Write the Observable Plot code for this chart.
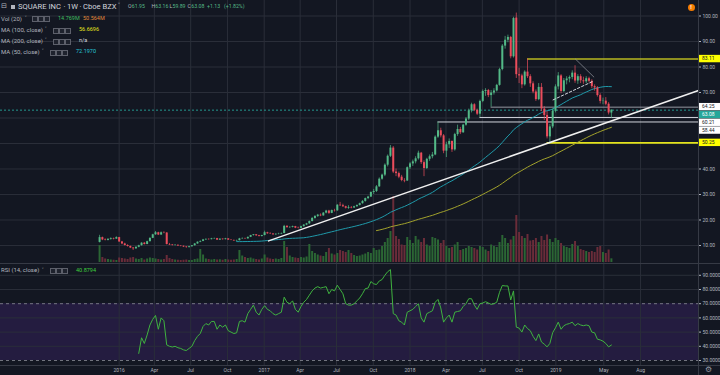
<!DOCTYPE html>
<html><head><meta charset="utf-8">
<script src="https://cdn.jsdelivr.net/npm/d3@7"></script>
<script src="https://cdn.jsdelivr.net/npm/@observablehq/plot@0.6"></script>
<style>
html,body{margin:0;padding:0;background:#131722;}
#chart{position:relative;width:720px;height:375px;background:#131722;overflow:hidden;font-family:Roboto,"Noto Sans",sans-serif;}
#chart svg{position:absolute;left:0;}
.t{position:absolute;white-space:pre;line-height:1;}
.ic{position:absolute;width:4px;height:4px;border:0.7px solid #5d606b;background:#1e222d;}
.sep{position:absolute;background:#363a45;}
</style></head><body><div id="chart"></div>
<script>
// ---------- data (weekly, starting week of 2015-11-16) ----------
const firstWeek = "2015-11-16";
const open = [11.2,13.1,12.2,12.0,12.4,12.7,12.5,13.1,11.4,10.6,
10.0,9.6,9.0,8.7,9.3,9.9,10.9,10.4,11.5,12.8,
14.2,15.0,14.1,15.0,14.9,10.4,10.2,10.0,10.1,9.8,
9.7,9.4,9.2,9.5,9.9,10.6,11.3,11.6,12.2,12.4,
12.3,12.6,12.7,12.1,12.5,12.3,12.6,12.1,12.0,11.8,
11.9,12.6,12.7,12.6,13.2,13.9,14.2,13.8,13.5,13.9,
15.0,14.6,14.5,14.2,14.4,14.5,14.7,17.5,17.0,17.1,
17.4,16.8,16.7,17.4,18.0,18.5,19.4,20.6,21.4,21.9,
21.6,22.7,23.5,22.6,23.7,23.6,25.8,25.6,25.2,24.6,
24.9,24.7,25.2,25.7,26.4,27.3,28.4,29.0,30.8,31.2,
33.0,36.0,37.6,41.5,45.0,48.2,38.8,38.2,36.8,35.5,
35.3,40.5,42.0,42.8,44.0,46.2,42.5,40.2,43.8,44.8,
45.5,52.5,55.0,53.0,47.0,49.5,50.8,47.5,53.5,55.5,
54.2,57.2,59.6,62.8,65.2,63.0,61.5,66.5,70.4,70.8,
68.8,69.8,70.6,72.8,79.0,88.2,90.5,91.6,84.0,99.2,
77.0,76.5,73.0,78.0,76.2,73.4,70.2,67.2,72.0,63.5,
61.0,52.6,56.5,62.6,72.2,76.5,70.4,74.6,75.3,75.9,
77.6,74.5,76.2,74.6,74.2,75.4,74.4,72.3,71.8,68.8,
66.5,66.6,65.4,61.95];
const high = [14.0,13.3,12.6,12.7,13.0,12.9,13.4,13.2,11.6,10.9,
10.3,9.8,9.2,9.5,10.1,11.1,11.2,11.7,13.0,14.4,
15.5,15.2,15.3,15.4,15.0,10.8,10.4,10.3,10.2,10.0,
9.8,9.6,9.7,10.0,10.8,11.4,11.8,12.4,12.6,12.6,
12.8,12.9,12.8,12.6,12.6,12.8,12.7,12.3,12.1,12.1,
12.8,13.0,12.9,13.3,14.0,14.3,14.3,14.0,14.0,15.6,
15.2,15.0,14.7,14.6,14.8,14.9,17.9,17.8,17.4,17.6,
17.5,17.2,17.6,18.2,18.7,19.6,21.0,21.7,22.2,22.4,
22.9,23.8,23.8,23.9,24.2,26.0,26.9,26.2,25.4,25.6,
25.3,25.4,25.9,26.6,27.6,28.6,29.3,31.0,32.0,33.5,
36.5,38.0,42.0,45.5,49.2,48.8,40.0,38.8,37.5,36.2,
40.8,42.5,43.5,44.8,47.0,46.5,43.2,44.2,45.5,46.5,
53.0,58.44,56.0,53.5,50.5,51.8,51.0,54.0,57.2,56.3,
57.5,60.2,63.5,65.8,65.6,63.5,67.0,71.0,71.5,71.2,
70.8,71.5,73.2,79.5,88.8,92.0,92.5,92.0,99.5,101.15,
79.5,77.2,78.5,83.11,77.0,74.2,71.0,73.5,73.5,64.5,
62.5,57.5,63.5,73.0,77.8,77.0,75.5,76.2,76.5,78.5,
80.5,77.0,77.0,76.0,76.2,76.0,75.0,73.0,72.3,69.5,
67.8,68.0,66.0,63.16];
const low = [11.0,11.9,11.8,11.8,12.1,12.2,12.4,11.2,10.3,9.8,
9.4,8.8,8.06,8.5,9.1,9.8,10.2,10.3,11.4,12.7,
14.0,13.9,14.0,14.6,10.2,10.0,9.8,9.8,9.6,9.5,
9.2,8.9,9.0,9.4,9.8,10.5,11.1,11.5,12.0,12.1,
12.2,12.4,12.0,12.0,12.1,12.2,12.0,11.9,11.6,11.6,
11.8,12.4,12.4,12.5,13.1,13.7,13.6,13.4,13.4,13.8,
14.4,14.3,14.0,14.0,14.2,14.3,14.6,16.8,16.7,16.9,
16.6,16.5,16.6,17.2,17.8,18.3,19.2,20.3,21.0,21.3,
21.5,22.4,22.2,22.5,23.1,23.4,25.3,24.9,24.3,24.2,
24.4,24.5,25.0,25.5,26.2,27.0,28.0,28.8,30.0,30.8,
32.8,35.6,37.0,40.8,44.5,38.2,37.0,36.2,35.0,34.6,
35.1,39.8,41.0,42.0,43.5,41.8,37.0,39.8,43.0,44.0,
45.2,52.0,52.2,46.0,44.5,48.0,46.5,47.0,52.8,53.5,
54.0,56.8,59.0,62.0,62.5,61.0,60.21,66.0,68.5,68.0,
64.25,69.0,70.2,72.5,78.5,87.0,89.5,83.2,83.5,75.5,
73.5,71.5,72.5,75.5,72.0,69.5,66.5,66.8,62.5,59.0,
51.8,49.82,55.8,62.0,71.0,69.5,70.0,73.0,73.8,75.0,
73.6,73.2,73.5,73.2,73.5,73.8,71.5,70.5,68.2,65.5,
65.2,64.8,61.2,59.89];
const close = [13.1,12.2,12.0,12.4,12.7,12.5,13.1,11.4,10.6,10.0,
9.6,9.0,8.7,9.3,9.9,10.9,10.4,11.5,12.8,14.2,
15.0,14.1,15.0,14.9,10.4,10.2,10.0,10.1,9.8,9.7,
9.4,9.2,9.5,9.9,10.6,11.3,11.6,12.2,12.4,12.3,
12.6,12.7,12.1,12.5,12.3,12.6,12.1,12.0,11.8,11.9,
12.6,12.7,12.6,13.2,13.9,14.2,13.8,13.5,13.9,15.0,
14.6,14.5,14.2,14.4,14.5,14.7,17.5,17.0,17.1,17.4,
16.8,16.7,17.4,18.0,18.5,19.4,20.6,21.4,21.9,21.6,
22.7,23.5,22.6,23.7,23.6,25.8,25.6,25.2,24.6,24.9,
24.7,25.2,25.7,26.4,27.3,28.4,29.0,30.8,31.2,33.0,
36.0,37.6,41.5,45.0,48.2,38.8,38.2,36.8,35.5,35.3,
40.5,42.0,42.8,44.0,46.2,42.5,40.2,43.8,44.8,45.5,
52.5,55.0,53.0,47.0,49.5,50.8,47.5,53.5,55.5,54.2,
57.2,59.6,62.8,65.2,63.0,61.5,66.5,70.4,70.8,68.8,
69.8,70.6,72.8,79.0,88.2,90.5,91.6,84.0,99.0,77.0,
76.5,73.0,78.0,76.2,73.4,70.2,67.2,72.0,63.5,61.0,
52.6,56.5,62.6,72.2,76.5,70.4,74.6,75.3,75.9,77.6,
74.5,76.2,74.6,74.2,75.4,74.4,72.3,71.8,68.8,66.5,
66.6,65.4,61.95,63.08];
const volume = [68,20,14,12,10,9,8,18,16,14,
12,18,20,14,12,16,10,14,18,16,
14,12,10,12,28,16,12,10,9,8,
9,10,8,8,12,14,52,30,14,12,
10,12,10,11,9,12,10,9,10,12,
48,26,20,16,18,14,12,10,14,30,
18,14,12,14,12,16,84,60,26,20,
18,16,20,18,22,72,44,36,30,26,
24,40,56,34,30,36,48,44,40,48,
36,28,24,26,30,34,40,36,56,48,
50,64,80,96,124,264,104,92,70,68,
100,88,76,104,90,80,96,70,64,100,
96,90,76,88,64,56,60,70,80,48,
52,56,64,60,56,50,64,60,50,44,
70,64,60,80,108,96,76,90,104,188,
120,104,96,112,86,88,96,80,104,88,
110,92,80,96,88,76,64,60,56,72,
84,64,52,48,44,40,44,40,60,64,
40,36,50,14.77];
const rsi = [35,46,42,48,55,59,61.7,52,60,58,
41,40,39.5,40,39,38.5,37.5,37,38.5,40,
44,47,49,54,56,55,57.5,57.5,52,55,
53.5,55,51,50,49,49.5,57.5,58,57,63,
66,69,64,62,66,68.6,66,65,63,62,
63,64,74.6,71,70,72,66,64,68,71,
73,76,79,81,82,81,81.5,82,77,80,
79,83,80,77,70,69,69,70,72,74,
77,80.6,81,85.6,84,83.5,86,87,90,92.5,
94,63,62,58,57,55,64,65,66,68,
70,60,57,63,64,65,71,73,67,57,
60,62,57,64,64.5,65,68,70,73.5,73.5,
69,66,70,70.5,71.4,70.5,69.5,70,71,78,
82.8,82.5,82.5,72.6,79,53.5,52.8,50,55,52.5,
51,47,44,48.7,43,41.5,39.6,42,49.6,53,
57,52,54.5,55.5,56,57,54.5,56,55,54.5,
55,54.5,50,49.5,45,44.5,43.6,42,39.6,40.88];
const rsiStartWeek = 14;
// horizontal levels drawn on the chart
const levelPrice = [83.11, 64.25, 60.21, 58.44, 50.25];
const levelStart = ["2018-10-22","2018-07-23","2018-06-25","2018-03-12","2018-12-10"];
const levelKind  = ["yellowDim","gray","white","white","yellow"];
const lastPrice = 63.08;
// drawn trend lines (date, price)
const trendMain   = [["2017-01-12",11.8],["2019-12-24",70.8]];
const trendDashed = [["2018-12-25",67.1],["2019-04-04",74.4]];
const trendThin   = [["2019-02-19",83.11],["2019-04-06",76.1]];
// axis ticks
const priceGrid = [10,20,30,40,50,60,70,80,90,100];
const priceTickLabels = [10,20,30,40,70,80,90,100];
const rsiTicks = [30,40,50,60,70,80,90];
const tickDates = ["2016-01-04","2016-04-01","2016-07-01","2016-10-01","2017-01-01","2017-04-01","2017-07-01","2017-10-01","2018-01-01","2018-04-01","2018-07-01","2018-10-01","2019-01-01","2019-05-01","2019-08-01"];
const tickLabels = ["2016","Apr","Jul","Oct","2017","Apr","Jul","Oct","2018","Apr","Jul","Oct","2019","May","Aug"];
const xDomain = ["2015-03-13","2019-12-24"];

// ---------- build tables ----------
const t0 = new Date(firstWeek + "T00:00:00Z").getTime();
const rows = close.map((c, i) => ({
  date: new Date(t0 + i * 7 * 864e5), open: open[i], high: high[i], low: low[i], close: c,
  vol: volume[i], up: c >= open[i]
}));
function sma(k) {
  const out = [];
  for (let i = k - 1; i < rows.length; i++) out.push({date: rows[i].date, v: d3.mean(close.slice(i - k + 1, i + 1))});
  return out;
}
const ma50 = sma(50), ma100 = sma(100);
const rsiRows = rsi.map((v, j) => ({date: rows[j + rsiStartWeek].date, v}));
const dt = s => new Date(s + "T00:00:00Z");
const xDom = xDomain.map(dt);
const tDates = tickDates.map(dt);
const labelOf = new Map(tDates.map((d, i) => [+d, tickLabels[i]]));
const levelColor = {yellowDim: "#b9b921", gray: "#9598a1", white: "#d1d4dc", yellow: "#e3e31c"};
const levels = levelPrice.map((p, i) => ({price: p, start: dt(levelStart[i]), end: xDom[1], kind: levelKind[i]}));
const tl = arr => arr.map(([d, p]) => ({date: dt(d), price: p}));

const W = 720, PH = 263, MR = 22;
const GRID = "#2a2e39";
const UP = "#53b987", DOWN = "#eb4d5c";
const base = {width: W, marginLeft: 0, marginRight: MR, marginTop: 0};
const style = {background: "transparent", fontSize: "5px", fontFamily: "Roboto, sans-serif", color: "#b2b5be", overflow: "visible"};
const xOpt = {type: "utc", domain: xDom, axis: null};
const yPrice = {domain: [2.94, 106.08]};

const chart = document.getElementById("chart");

// layer A: grid + right price axis
const gridPlot = Plot.plot({...base, height: PH, marginBottom: 0, style,
  x: xOpt,
  y: {...yPrice, axis: "right", ticks: priceTickLabels, tickFormat: d => d.toFixed(2), tickSize: 2, tickPadding: 2, label: null},
  marks: [Plot.ruleY(priceGrid, {stroke: GRID}), Plot.ruleX(tDates, {stroke: GRID})]
});
gridPlot.style.top = "0px";
chart.appendChild(gridPlot);

// layer B: volume
const volPlot = Plot.plot({...base, height: PH, marginBottom: 1, style,
  x: xOpt, y: {domain: [0, 1048], axis: null},
  marks: [Plot.ruleX(rows, {x: "date", y1: 0, y2: "vol", stroke: d => d.up ? "#2b6634" : "#6a2c39", strokeWidth: 2})]
});
volPlot.style.top = "0px";
chart.appendChild(volPlot);

// layer C: candles, averages, drawings
const pricePlot = Plot.plot({...base, height: PH, marginBottom: 0, style,
  x: xOpt, y: {...yPrice, axis: null},
  marks: [
    Plot.ruleY([lastPrice], {stroke: "#26a69a", strokeDasharray: "2,2", strokeOpacity: 0.9}),
    Plot.ruleY(levels, {y: "price", x1: "start", x2: "end", stroke: d => levelColor[d.kind], strokeWidth: d => d.kind.startsWith("yellow") ? 1.6 : 1}),
    Plot.line(ma100, {x: "date", y: "v", stroke: "#a3a32c", strokeWidth: 1}),
    Plot.line(ma50, {x: "date", y: "v", stroke: "#1f9aaa", strokeWidth: 1}),
    Plot.ruleX(rows, {x: "date", y1: "low", y2: "high", stroke: d => d.up ? UP : DOWN, strokeWidth: 0.7}),
    Plot.ruleX(rows, {x: "date", y1: "open", y2: "close", stroke: d => d.up ? UP : DOWN, strokeWidth: 2}),
    Plot.line(tl(trendMain), {x: "date", y: "price", stroke: "#f0f0f0", strokeWidth: 1.5}),
    Plot.line(tl(trendDashed), {x: "date", y: "price", stroke: "#d1d4dc", strokeWidth: 1, strokeDasharray: "2.5,2"}),
    Plot.line(tl(trendThin), {x: "date", y: "price", stroke: "#9598a1", strokeWidth: 0.7})
  ]
});
pricePlot.style.top = "0px";
chart.appendChild(pricePlot);

// price labels on the right axis (stacked so they don't overlap)
{
  const ys = pricePlot.scale("y");
  const labs = [
    ...levels.map(l => ({v: l.price, kind: l.kind})),
    {v: lastPrice, kind: "last"}
  ].map(l => ({...l, y: ys.apply(l.v)})).sort((a, b) => a.y - b.y);
  for (let i = 1; i < labs.length; i++) if (labs[i].y < labs[i - 1].y + 7.8) labs[i].y = labs[i - 1].y + 7.8;
  const g = d3.select(pricePlot).append("g").attr("font-size", 5).attr("font-family", "Roboto, sans-serif").attr("text-anchor", "start");
  for (const l of labs) {
    const bg = l.kind === "last" ? "#26a69a" : l.kind.startsWith("yellow") ? "#ffff00" : "#ffffff";
    const fg = l.kind === "last" ? "#ffffff" : "#131722";
    g.append("rect").attr("x", W - MR + 0.5).attr("y", l.y - 3.7).attr("width", MR - 0.5).attr("height", 7.4).attr("fill", bg);
    g.append("text").attr("x", W - MR + 4).attr("y", l.y).attr("dy", "0.35em").attr("text-anchor", "start").attr("fill", fg).text(l.v.toFixed(2));
  }
}

// RSI pane + time axis
const rsiPlot = Plot.plot({...base, height: 112, marginBottom: 10, style,
  x: {type: "utc", domain: xDom, axis: "bottom", ticks: tDates, tickFormat: d => labelOf.get(+d) || "", tickSize: 0, tickPadding: 3, label: null},
  y: {domain: [26.48, 98.3], axis: "right", ticks: rsiTicks, tickFormat: d => d.toFixed(4), tickSize: 2, tickPadding: 2, label: null},
  marks: [
    Plot.rect([{lo: 30, hi: 70}], {y1: "lo", y2: "hi", fill: "#241c40"}),
    Plot.ruleY([40, 50, 60, 80, 90], {stroke: GRID}),
    Plot.ruleX(tDates, {stroke: GRID}),
    Plot.ruleY([70, 30], {stroke: "#8a8d96", strokeDasharray: "3,3", strokeWidth: 0.8}),
    Plot.line(rsiRows, {x: "date", y: "v", stroke: "#3fb23f", strokeWidth: 1})
  ]
});
rsiPlot.style.top = "263px";
chart.appendChild(rsiPlot);

// separators
function sep(l, t, w, h) { const d = document.createElement("div"); d.className = "sep"; Object.assign(d.style, {left: l + "px", top: t + "px", width: w + "px", height: h + "px"}); chart.appendChild(d); }
sep(0, 263, 720, 1); sep(0, 365, 720, 1); sep(698, 0, 1, 375);

// ---------- legend text ----------
function txt(x, yc, s, color, size = 6) {
  const d = document.createElement("div"); d.className = "t"; d.textContent = s;
  Object.assign(d.style, {left: x + "px", top: (yc - size * 0.55) + "px", color, fontSize: size + "px"});
  chart.appendChild(d); return d;
}
function icons(x, yc) { for (let k = 0; k < 3; k++) { const d = document.createElement("div"); d.className = "ic"; Object.assign(d.style, {left: (x + k * 6) + "px", top: (yc - 2.7) + "px"}); chart.appendChild(d); } }
const G = "#b2b5be", V = 5.5;
txt(1, 7, "⊟", G, 7);
{ const d = document.createElement("div"); d.className = "ic"; Object.assign(d.style, {left: "11px", top: "4.5px", width: "3.5px", height: "4.5px", background: "#b2b5be", border: "none"}); chart.appendChild(d); }
txt(18, 7, "SQUARE INC", "#d1d4dc", 7.6);
txt(63.5, 7, "·", "#d1d4dc", 7.6);
txt(67, 7, "1W", "#d1d4dc", 7.6);
txt(79.5, 7, "·", "#d1d4dc", 7.6);
txt(83, 7, "Cboe BZX", "#d1d4dc", 7.6);
txt(118, 7, "˅", "#d1d4dc", 7);
const ohlc = [["O", "61.95", 128], ["H", "63.16", 151.5], ["L", "59.89", 169.5], ["C", "63.08", 187.5]];
for (const [k, v, x] of ohlc) { txt(x, 7, k, G, 5.2); txt(x + (k === "L" ? 3 : 3.8), 7, v, UP, 5.2); }
txt(207, 7, "+1.13", UP, 5.2); txt(224, 7, "(+1.82%)", UP, 5.2);

txt(1, 19, "Vol (20)", G); txt(25, 19, "˅", G, 5.5); icons(32, 19); txt(58, 19, "14.769M", "#3fbf5f", V); txt(83, 19, "50.564M", "#e0883a", V);
txt(1, 30.5, "MA (100, close)", G); txt(45, 30.5, "˅", G, 5.5); icons(53, 30.5); txt(79, 30.5, "56.6696", "#e3e31c", V);
txt(1, 41.5, "MA (200, close)", G); txt(45, 41.5, "˅", G, 5.5); icons(53, 41.5); txt(79, 41.5, "n/a", "#d1d4dc", V);
txt(1, 52.5, "MA (50, close)", G); txt(42, 52.5, "˅", G, 5.5); icons(50, 52.5); txt(76, 52.5, "72.1970", "#26c6da", V);
txt(1, 270.7, "RSI (14, close)", G); txt(42, 270.7, "˅", G, 5.5); icons(50, 270.7); txt(76, 270.7, "40.8794", "#3fd03f", V);

// top-right alert badge and bottom-right settings glyph
{ const d = document.createElement("div"); Object.assign(d.style, {position: "absolute", left: "687.5px", top: "3.5px", width: "7px", height: "7px", borderRadius: "50%", background: "#f57c00", color: "#fff", fontSize: "5.5px", lineHeight: "7px", textAlign: "center", fontWeight: "700"}); d.textContent = "!"; chart.appendChild(d); }
txt(705, 370, "⚙", "#9598a1", 8);
</script></body></html>
